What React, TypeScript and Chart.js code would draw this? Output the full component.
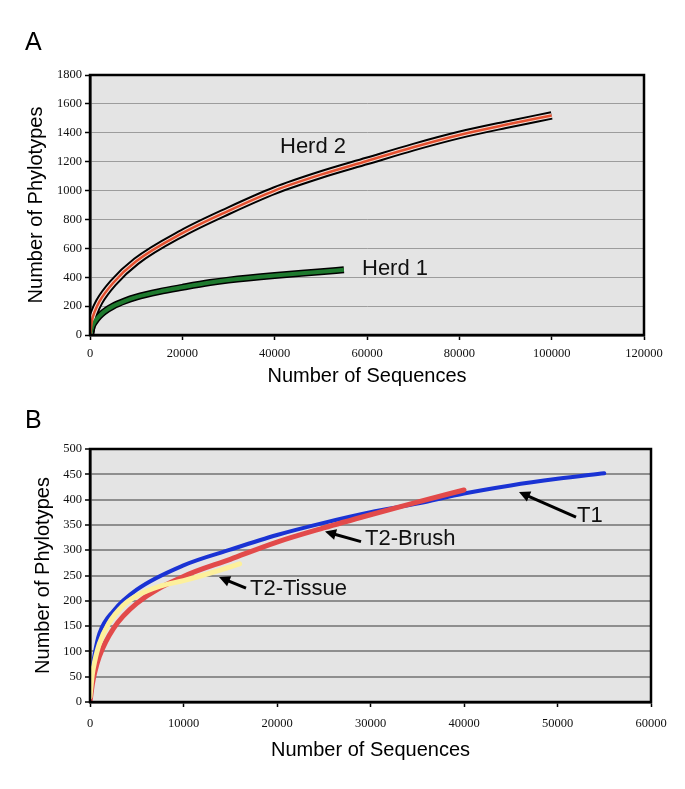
import React, { useEffect, useRef } from "react";
import { Chart, registerables } from "chart.js";

Chart.register(...registerables);

// ---------- Panel A data ----------
const herd2X = [0, 500, 1000, 2000, 5000, 10000, 20000, 30000, 40000, 50000, 60000, 70000, 80000, 90000, 100000];
const herd2Y = [0, 110, 160, 230, 360, 510, 705, 860, 1000, 1110, 1205, 1300, 1385, 1455, 1520];
const herd1X = [0, 500, 1000, 2000, 3000, 5000, 7500, 10000, 15000, 20000, 26000, 30000, 40000, 50000, 55000];
const herd1Y = [0, 60, 90, 130, 160, 200, 235, 262, 300, 330, 363, 380, 412, 438, 452];
const panelAXTicks = [0, 20000, 40000, 60000, 80000, 100000, 120000];
const panelAYTicks = [0, 200, 400, 600, 800, 1000, 1200, 1400, 1600, 1800];

// ---------- Panel B data ----------
const t1X = [100, 500, 1000, 2500, 5000, 10000, 15000, 20000, 25000, 30000, 35000, 40000, 45000, 50000, 55000];
const t1Y = [45, 95, 135, 180, 222, 270, 301, 330, 354, 375, 392, 412, 428, 441, 452];
const t2BrushX = [0, 250, 500, 1000, 2500, 5000, 10000, 15000, 20000, 25000, 30000, 35000, 40000];
const t2BrushY = [0, 35, 58, 90, 145, 195, 248, 282, 316, 344, 370, 395, 419];
const t2TissueX = [0, 250, 500, 1000, 2000, 3500, 5000, 7500, 10000, 12000, 14000, 16000];
const t2TissueY = [10, 55, 80, 115, 155, 190, 210, 229, 240, 250, 261, 273];
const panelBXTicks = [0, 10000, 20000, 30000, 40000, 50000, 60000];
const panelBYTicks = [0, 50, 100, 150, 200, 250, 300, 350, 400, 450, 500];

// ---------- Annotations (data coordinates) ----------
const panelALabels = [
  { text: "Herd 2", x: 41155, y: 1260 },
  { text: "Herd 1", x: 58915, y: 415 },
];
const panelBLabels = [
  { text: "T1", x: 52086, y: 356 },
  { text: "T2-Brush", x: 29412, y: 310 },
  { text: "T2-Tissue", x: 17112, y: 211.5 },
];
const panelBArrows = [
  { x1: 51979, y1: 365.6, x2: 45882, y2: 415 },
  { x1: 28984, y1: 317, x2: 25134, y2: 337 },
  { x1: 16684, y1: 225, x2: 13797, y2: 247 },
];

const SANS = '"Liberation Sans", Arial, Helvetica, sans-serif';
const SERIF = '"Liberation Serif", "Times New Roman", serif';

type Pt = { x: number; y: number };
const pts = (xs: number[], ys: number[]): Pt[] => xs.map((x, i) => ({ x, y: ys[i] }));

function makePlugin(
  bg: string,
  letter: string,
  letterY: number,
  labels: { text: string; x: number; y: number }[],
  arrows: { x1: number; y1: number; x2: number; y2: number }[]
) {
  return {
    id: "decor",
    beforeDraw(chart: any) {
      const { ctx, chartArea } = chart;
      ctx.save();
      ctx.fillStyle = bg;
      ctx.fillRect(chartArea.left, chartArea.top, chartArea.right - chartArea.left, chartArea.bottom - chartArea.top);
      ctx.restore();
    },
    afterDraw(chart: any) {
      const { ctx, chartArea, scales } = chart;
      const xs = scales.x;
      const ys = scales.y;
      ctx.save();
      // frame
      ctx.strokeStyle = "#000";
      ctx.lineWidth = 2.5;
      ctx.strokeRect(chartArea.left, chartArea.top, chartArea.right - chartArea.left, chartArea.bottom - chartArea.top);
      // panel letter
      ctx.fillStyle = "#000";
      ctx.font = `25px ${SANS}`;
      ctx.textAlign = "left";
      ctx.textBaseline = "alphabetic";
      ctx.fillText(letter, 25, letterY);
      // labels
      ctx.font = `22px ${SANS}`;
      ctx.fillStyle = "#111";
      for (const l of labels) {
        ctx.fillText(l.text, xs.getPixelForValue(l.x), ys.getPixelForValue(l.y));
      }
      // arrows
      ctx.strokeStyle = "#000";
      ctx.fillStyle = "#000";
      ctx.lineWidth = 3;
      ctx.lineCap = "butt";
      for (const a of arrows) {
        const x1 = xs.getPixelForValue(a.x1);
        const y1 = ys.getPixelForValue(a.y1);
        const x2 = xs.getPixelForValue(a.x2);
        const y2 = ys.getPixelForValue(a.y2);
        const ang = Math.atan2(y2 - y1, x2 - x1);
        const c = Math.cos(ang);
        const s = Math.sin(ang);
        const hl = 11;
        const hw = 5.5;
        const bx = x2 - c * hl;
        const by = y2 - s * hl;
        ctx.beginPath();
        ctx.moveTo(x1, y1);
        ctx.lineTo(bx + c * 1, by + s * 1);
        ctx.stroke();
        ctx.beginPath();
        ctx.moveTo(x2, y2);
        ctx.lineTo(bx + s * hw, by - c * hw);
        ctx.lineTo(bx - s * hw, by + c * hw);
        ctx.closePath();
        ctx.fill();
      }
      ctx.restore();
    },
  };
}

function scales(opt: {
  xMax: number;
  xTicks: number[];
  yMax: number;
  yTicks: number[];
  gridColor: string;
  gridWidth: number;
  xTickPad: number;
  xTitlePad: number;
  yTitlePad: number;
}) {
  return {
    x: {
      type: "linear",
      min: 0,
      max: opt.xMax,
      afterBuildTicks: (axis: any) => {
        axis.ticks = opt.xTicks.map((v) => ({ value: v }));
      },
      afterFit: (axis: any) => {
        axis.height = 60;
      },
      grid: { drawOnChartArea: false, drawTicks: true, tickLength: 5, tickColor: "#000", tickWidth: 1.5 },
      border: { display: true, color: "#000", width: 2.5 },
      ticks: {
        autoSkip: false,
        maxRotation: 0,
        padding: opt.xTickPad,
        color: "#111",
        font: { family: SERIF, size: 12.5 },
        callback: (v: any) => String(v),
      },
      title: {
        display: true,
        text: "Number of Sequences",
        color: "#000",
        font: { family: SANS, size: 20 },
        padding: { top: 0, bottom: opt.xTitlePad },
      },
    },
    y: {
      type: "linear",
      min: 0,
      max: opt.yMax,
      afterBuildTicks: (axis: any) => {
        axis.ticks = opt.yTicks.map((v) => ({ value: v }));
      },
      afterFit: (axis: any) => {
        axis.width = 90;
      },
      grid: {
        color: (ctx: any) =>
          ctx.tick && (ctx.tick.value === 0 || ctx.tick.value === opt.yMax) ? "rgba(0,0,0,0)" : opt.gridColor,
        lineWidth: opt.gridWidth,
        tickColor: "#000",
        tickLength: 5,
        tickWidth: 1.5,
      },
      border: { display: true, color: "#000", width: 2.5 },
      ticks: {
        padding: 3,
        color: "#111",
        font: { family: SERIF, size: 12.5 },
        callback: (v: any) => String(v),
      },
      title: {
        display: true,
        text: "Number of Phylotypes",
        color: "#000",
        font: { family: SANS, size: 20 },
        padding: { top: opt.yTitlePad, bottom: 0 },
      },
    },
  };
}

const lineBase = {
  pointRadius: 0,
  fill: false,
  cubicInterpolationMode: "monotone",
  borderJoinStyle: "round",
};

function PanelA() {
  const ref = useRef<HTMLCanvasElement>(null);
  useEffect(() => {
    if (!ref.current) return;
    const h2 = pts(herd2X, herd2Y);
    const h1 = pts(herd1X, herd1Y);
    const chart = new Chart(ref.current, {
      type: "line",
      data: {
        datasets: [
          { ...lineBase, label: "Herd 2", data: h2, borderColor: "#e4502f", borderWidth: 2.5, order: 1 },
          { ...lineBase, label: "Herd 2 inner", data: h2, borderColor: "#f3ddd6", borderWidth: 4.5, order: 2 },
          { ...lineBase, label: "Herd 2 outline", data: h2, borderColor: "#000", borderWidth: 8.5, order: 3 },
          { ...lineBase, label: "Herd 1", data: h1, borderColor: "#1e7a2e", borderWidth: 4, order: 1 },
          { ...lineBase, label: "Herd 1 outline", data: h1, borderColor: "#000", borderWidth: 7, order: 3 },
        ] as any,
      },
      options: {
        responsive: false,
        animation: false,
        devicePixelRatio: 1,
        events: [],
        layout: { padding: { left: 0, top: 75, right: 41, bottom: 0 } },
        plugins: { legend: { display: false }, tooltip: { enabled: false } },
        scales: scales({
          xMax: 120000,
          xTicks: panelAXTicks,
          yMax: 1800,
          yTicks: panelAYTicks,
          gridColor: "#9c9c9c",
          gridWidth: 1,
          xTickPad: 6,
          xTitlePad: 7,
          yTitlePad: 24,
        }) as any,
      },
      plugins: [makePlugin("#e4e4e4", "A", 50, panelALabels, [])],
    });
    return () => chart.destroy();
  }, []);
  return <canvas ref={ref} width={685} height={395} style={{ display: "block", width: 685, height: 395 }} />;
}

function PanelB() {
  const ref = useRef<HTMLCanvasElement>(null);
  useEffect(() => {
    if (!ref.current) return;
    const chart = new Chart(ref.current, {
      type: "line",
      data: {
        datasets: [
          { ...lineBase, label: "T2-Tissue", data: pts(t2TissueX, t2TissueY), borderColor: "#fdf09c", borderWidth: 5, borderCapStyle: "round", order: 1 },
          { ...lineBase, label: "T2-Brush", data: pts(t2BrushX, t2BrushY), borderColor: "#e24a4a", borderWidth: 5, borderCapStyle: "round", order: 2 },
          { ...lineBase, label: "T1", data: pts(t1X, t1Y), borderColor: "#1a33d4", borderWidth: 4, borderCapStyle: "round", order: 3 },
        ] as any,
      },
      options: {
        responsive: false,
        animation: false,
        devicePixelRatio: 1,
        events: [],
        layout: { padding: { left: 0, top: 54, right: 34, bottom: 27 } },
        plugins: { legend: { display: false }, tooltip: { enabled: false } },
        scales: scales({
          xMax: 60000,
          xTicks: panelBXTicks,
          yMax: 500,
          yTicks: panelBYTicks,
          gridColor: "#8e8e8e",
          gridWidth: 2,
          xTickPad: 9,
          xTitlePad: 0,
          yTitlePad: 31,
        }) as any,
      },
      plugins: [makePlugin("#e4e4e4", "B", 33, panelBLabels, panelBArrows)],
    });
    return () => chart.destroy();
  }, []);
  return <canvas ref={ref} width={685} height={394} style={{ display: "block", width: 685, height: 394 }} />;
}

export default function App() {
  return (
    <div style={{ position: "absolute", left: 0, top: 0, width: 685, height: 789, background: "#fff" }}>
      <PanelA />
      <PanelB />
    </div>
  );
}
